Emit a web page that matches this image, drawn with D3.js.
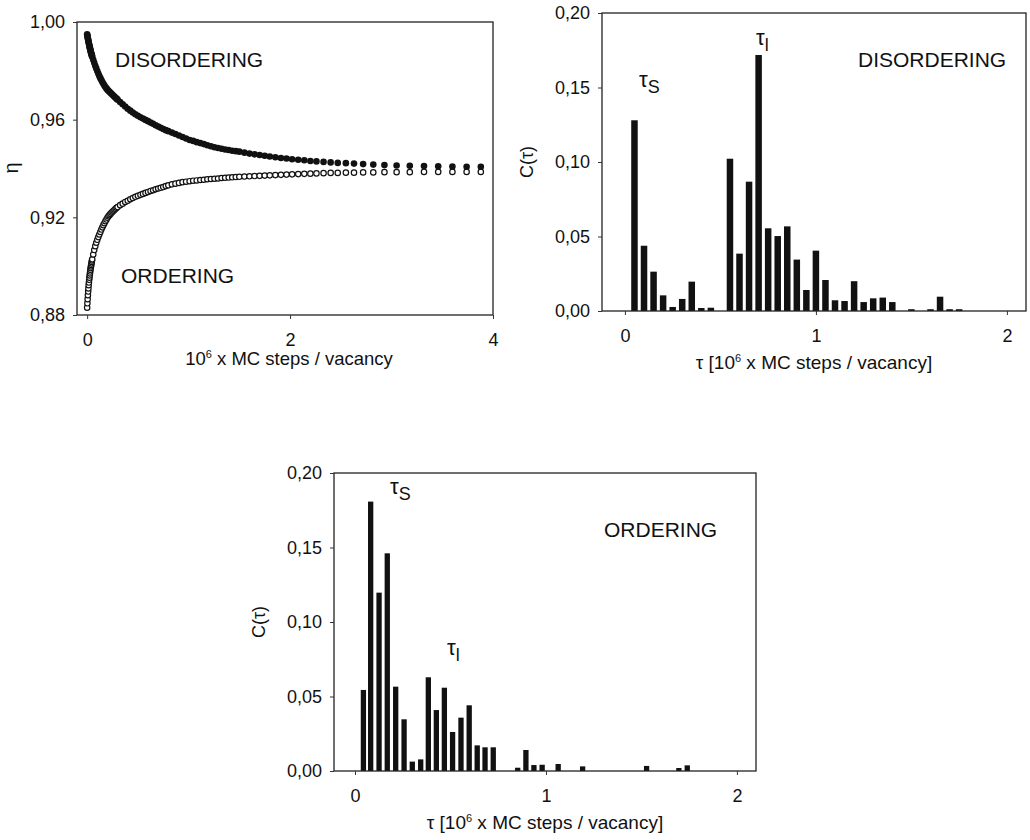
<!DOCTYPE html>
<html>
<head>
<meta charset="utf-8">
<script src="https://cdn.jsdelivr.net/npm/d3@7"></script>
<style>
	body { margin: 0; background: #fff; }
	svg text { font-family: "Liberation Sans", Arial, sans-serif; fill: #111; }
</style>
</head>
<body>
<svg id="fig" width="1030" height="840" viewBox="0 0 1030 840"></svg>
<script>
// order parameter eta vs time (10^6 MC steps / vacancy)
const etaTime = [
	0, 0.0025, 0.005, 0.0075, 0.01, 0.0125, 0.015, 0.0175, 0.02, 0.0225, 0.025, 0.0275, 0.03, 0.0325, 0.035, 0.0375, 0.04, 0.0425, 0.045, 0.0475,
	0.05, 0.06, 0.07, 0.08, 0.09, 0.10, 0.11, 0.12, 0.13, 0.14, 0.15, 0.16, 0.17, 0.18, 0.19, 0.20, 0.21, 0.22, 0.23, 0.24, 0.25, 0.26, 0.27, 0.28, 0.29,
	0.30, 0.325, 0.35, 0.375, 0.40, 0.425, 0.45, 0.475, 0.50, 0.525, 0.55, 0.575, 0.60, 0.625, 0.65, 0.675, 0.70, 0.725, 0.75, 0.775,
	0.80, 0.835, 0.87, 0.905, 0.94, 0.975, 1.01, 1.045, 1.08, 1.115, 1.15, 1.185, 1.22, 1.255, 1.29, 1.325, 1.36, 1.395, 1.43, 1.465,
	1.50, 1.55, 1.60, 1.65, 1.70, 1.75, 1.80, 1.855, 1.91, 1.965, 2.02, 2.08, 2.14, 2.20, 2.26, 2.33, 2.40, 2.47, 2.55,
	2.63, 2.72, 2.82, 2.93, 3.05, 3.18, 3.32, 3.46, 3.60, 3.74, 3.88];
const etaDisordering = [
	0.9950, 0.9944, 0.9938, 0.9932, 0.9927, 0.9922, 0.9917, 0.9912, 0.9907, 0.9902, 0.9898, 0.9893, 0.9889, 0.9884, 0.9880, 0.9876, 0.9872, 0.9868, 0.9865, 0.9861,
	0.9858, 0.9845, 0.9833, 0.9821, 0.9810, 0.9799, 0.9789, 0.9779, 0.9770, 0.9762, 0.9754, 0.9747, 0.9740, 0.9734, 0.9728, 0.9723, 0.9718, 0.9714, 0.9710, 0.9706, 0.9702, 0.9698, 0.9694, 0.9690, 0.9686,
	0.9682, 0.9672, 0.9663, 0.9654, 0.9645, 0.9637, 0.9629, 0.9622, 0.9616, 0.9610, 0.9605, 0.9599, 0.9594, 0.9588, 0.9583, 0.9577, 0.9572, 0.9567, 0.9562, 0.9557,
	0.9553, 0.9547, 0.9541, 0.9535, 0.9529, 0.9523, 0.9517, 0.9513, 0.9508, 0.9504, 0.9500, 0.9495, 0.9491, 0.9487, 0.9484, 0.9481, 0.9478, 0.9476, 0.9473, 0.9471,
	0.9469, 0.9465, 0.9461, 0.9458, 0.9455, 0.9452, 0.9449, 0.9446, 0.9443, 0.9441, 0.9438, 0.9436, 0.9434, 0.9431, 0.9429, 0.9427, 0.9425, 0.9423, 0.9422,
	0.9420, 0.9418, 0.9416, 0.9414, 0.9412, 0.9411, 0.9410, 0.9409, 0.9408, 0.9407, 0.9407];
const etaOrdering = [
	0.8830, 0.8848, 0.8865, 0.8881, 0.8896, 0.8909, 0.8922, 0.8933, 0.8944, 0.8953, 0.8962, 0.8970, 0.8978, 0.8985, 0.8992, 0.8999, 0.9005, 0.9011, 0.9017, 0.9023,
	0.9028, 0.9048, 0.9066, 0.9082, 0.9096, 0.9108, 0.9119, 0.9130, 0.9140, 0.9150, 0.9159, 0.9168, 0.9176, 0.9184, 0.9191, 0.9198, 0.9204, 0.9209, 0.9214, 0.9219, 0.9223, 0.9227, 0.9231, 0.9235, 0.9239,
	0.9242, 0.9250, 0.9256, 0.9263, 0.9268, 0.9274, 0.9279, 0.9284, 0.9288, 0.9292, 0.9296, 0.9300, 0.9304, 0.9308, 0.9311, 0.9315, 0.9318, 0.9321, 0.9324, 0.9328,
	0.9331, 0.9335, 0.9338, 0.9341, 0.9344, 0.9346, 0.9348, 0.9350, 0.9351, 0.9353, 0.9354, 0.9356, 0.9357, 0.9358, 0.9359, 0.9361, 0.9362, 0.9363, 0.9364, 0.9365,
	0.9366, 0.9367, 0.9368, 0.9369, 0.9370, 0.9371, 0.9372, 0.9373, 0.9374, 0.9375, 0.9376, 0.9377, 0.9378, 0.9379, 0.9380, 0.9381, 0.9382, 0.9382, 0.9383,
	0.9383, 0.9384, 0.9384, 0.9385, 0.9385, 0.9385, 0.9386, 0.9386, 0.9386, 0.9386, 0.9386];

// correlation C(tau), disordering run
const disTau = [0.05, 0.10, 0.15, 0.20, 0.25, 0.30, 0.35, 0.40, 0.45, 0.55, 0.60, 0.65, 0.70, 0.75, 0.80,
	0.85, 0.90, 0.95, 1.00, 1.05, 1.10, 1.15, 1.20, 1.25, 1.30, 1.35, 1.40, 1.50, 1.60, 1.65, 1.70, 1.75];
const disC = [0.128, 0.0438, 0.0264, 0.0105, 0.0027, 0.0081, 0.0197, 0.0020, 0.0022, 0.1022, 0.0385, 0.0868, 0.1718, 0.0555, 0.0503,
	0.0568, 0.0345, 0.0141, 0.0405, 0.0208, 0.0072, 0.0067, 0.0200, 0.0060, 0.0085, 0.0090, 0.0060, 0.0012, 0.0012, 0.0096, 0.0012, 0.0012];

// correlation C(tau), ordering run
const ordTau = [0.044, 0.082, 0.126, 0.169, 0.213, 0.257, 0.300, 0.344, 0.384, 0.426, 0.468, 0.511, 0.555,
	0.598, 0.640, 0.681, 0.724, 0.852, 0.895, 0.937, 0.980, 1.064, 1.192, 1.527, 1.696, 1.740];
const ordC = [0.0544, 0.1808, 0.1197, 0.1461, 0.0566, 0.0347, 0.0063, 0.0078, 0.0629, 0.0409, 0.0559, 0.0262, 0.0358,
	0.0441, 0.0172, 0.0159, 0.0159, 0.0022, 0.0141, 0.0040, 0.0042, 0.0047, 0.0031, 0.0034, 0.0020, 0.0038];

const etaTicks = [0.88, 0.92, 0.96, 1.00];
const timeTicks = [0, 2, 4];
const cTicks = [0, 0.05, 0.10, 0.15, 0.20];
const tauTicks = [0, 1, 2];

const svg = d3.select('#fig');
const comma = d => d3.format('.2f')(d).replace('.', ',');

function frame(g, x, y, xTicks, yTicks) {
	const [x0, x1] = x.range(), [y1, y0] = y.range();
	g.append('rect')
		.attr('x', x0).attr('y', y0)
		.attr('width', x1 - x0).attr('height', y1 - y0)
		.attr('fill', 'none').attr('stroke', '#222').attr('stroke-width', 1.3);

	const xa = g.append('g').attr('transform', `translate(0,${y1})`)
		.call(d3.axisBottom(x).tickValues(xTicks).tickSize(4).tickPadding(14).tickFormat(d3.format('d')));
	const ya = g.append('g').attr('transform', `translate(${x0},0)`)
		.call(d3.axisLeft(y).tickValues(yTicks).tickSize(4).tickPadding(8).tickFormat(comma));
	[xa, ya].forEach(a => {
		a.select('.domain').remove();
		a.selectAll('line').attr('stroke', '#333');
		a.selectAll('text').attr('font-size', 18).attr('fill', '#111')
			.style('font-family', '"Liberation Sans", Arial, sans-serif');
	});
}

function tauLabel(g, x, y, sub) {
	const t = g.append('text').attr('x', x).attr('y', y).attr('font-size', 22);
	t.append('tspan').text('τ');
	t.append('tspan').attr('dy', 6).attr('font-size', 18).text(sub);
}

function xTitle(g, cx, y, prefix, suffix, size) {
	const t = g.append('text').attr('x', cx).attr('y', y)
		.attr('text-anchor', 'middle').attr('font-size', size);
	t.append('tspan').text(prefix + '10');
	t.append('tspan').attr('dy', -7).attr('font-size', 11).text('6');
	t.append('tspan').attr('dy', 7).text(suffix);
}

// ---- panel A: eta vs time ----
{
	const g = svg.append('g');
	const x = d3.scaleLinear().domain([-0.1, 4]).range([77, 493]);
	const y = d3.scaleLinear().domain([0.88, 1.00]).range([315, 22]);
	frame(g, x, y, timeTicks, etaTicks);

	const pts = etaTime.map((t, i) => ({t: t, dis: etaDisordering[i], ord: etaOrdering[i]}));
	g.append('g').selectAll('circle').data(pts).enter().append('circle')
		.attr('cx', d => x(d.t)).attr('cy', d => y(d.ord)).attr('r', 2.7)
		.attr('fill', '#fff').attr('stroke', '#111').attr('stroke-width', 1.2);
	g.append('g').selectAll('circle').data(pts).enter().append('circle')
		.attr('cx', d => x(d.t)).attr('cy', d => y(d.dis)).attr('r', 3.3)
		.attr('fill', '#111');

	g.append('text').attr('x', 115).attr('y', 67).attr('font-size', 21).text('DISORDERING');
	g.append('text').attr('x', 121).attr('y', 283).attr('font-size', 21).text('ORDERING');
	g.append('text').attr('transform', 'translate(18,168) rotate(-90)')
		.attr('text-anchor', 'middle').attr('font-size', 20).text('η');
	xTitle(g, 289, 365, '', ' x MC steps / vacancy', 18.5);
}

// ---- bar panels ----
function barPanel(left, right, top, bottom, tau, c, barW, xDomain) {
	const g = svg.append('g');
	const x = d3.scaleLinear().domain(xDomain).range([left, right]);
	const y = d3.scaleLinear().domain([0, 0.20]).range([bottom, top]);

	g.selectAll('rect.bar').data(tau.map((t, i) => ({t: t, c: c[i]}))).enter().append('rect')
		.attr('class', 'bar')
		.attr('x', d => x(d.t) - barW / 2).attr('width', barW)
		.attr('y', d => y(d.c)).attr('height', d => y(0) - y(d.c))
		.attr('fill', '#111');
	frame(g, x, y, tauTicks, cTicks);

	g.append('text').attr('transform', `translate(${left - 69},${(top + bottom) / 2}) rotate(-90)`)
		.attr('text-anchor', 'middle').attr('font-size', 18).text('C(τ)');
	xTitle(g, (left + right) / 2, bottom + 58, 'τ [', ' x MC steps / vacancy]', 19);
	return g;
}

const gB = barPanel(602, 1026, 13, 311, disTau, disC, 6.5, [-0.12, 2.1]);
tauLabel(gB, 639, 87, 'S');
tauLabel(gB, 756, 45, 'l');
gB.append('text').attr('x', 858).attr('y', 67).attr('font-size', 21).text('DISORDERING');

const gC = barPanel(334, 756, 473, 771, ordTau, ordC, 5.3, [-0.11, 2.1]);
tauLabel(gC, 390, 494, 'S');
tauLabel(gC, 447, 655, 'l');
gC.append('text').attr('x', 604).attr('y', 537).attr('font-size', 21).text('ORDERING');
</script>
</body>
</html>
